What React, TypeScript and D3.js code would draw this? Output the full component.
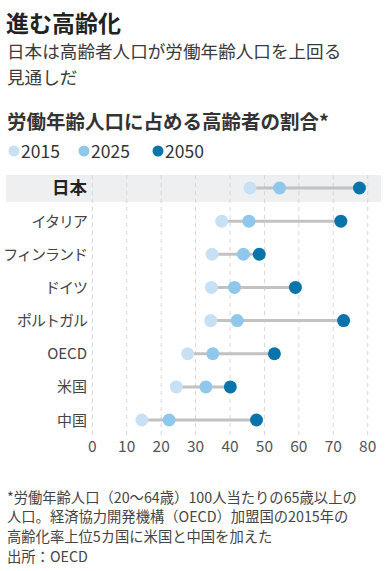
import * as d3 from "d3";

const countries = ["日本", "イタリア", "フィンランド", "ドイツ", "ポルトガル", "OECD", "米国", "中国"];
const years = ["2015", "2025", "2050"];
const v2015 = [45.8, 37.6, 34.8, 34.6, 34.4, 27.7, 24.4, 14.4];
const v2025 = [54.4, 45.5, 43.9, 41.3, 42.1, 35.0, 33.0, 22.3];
const v2050 = [77.6, 72.2, 48.5, 59.0, 73.0, 52.9, 40.1, 47.7];
const ticks = [0, 10, 20, 30, 40, 50, 60, 70, 80];
const notes = [
  "*労働年齢人口（20～64歳）100人当たりの65歳以上の",
  "人口。経済協力開発機構（OECD）加盟国の2015年の",
  "高齢化率上位5カ国に米国と中国を加えた",
  "出所：OECD",
];

const colors = ["#c8e0f4", "#90c8ec", "#0874aa"];
const font = "'Noto Sans CJK JP', 'Noto Sans', sans-serif";

// katakana rows are set a bit tighter, like the original
const isKana = (s: string) => /^[\u30a0-\u30ff]+$/.test(s);

export default function App() {
  const W = 387;
  const H = 571;
  const x = d3.scaleLinear().domain([0, 80]).range([92.3, 367.7]);
  const y = d3.scaleBand().domain(countries).range([171.4, 436.6]);
  const series = [v2015, v2025, v2050];
  const legendX = [14, 84, 158];

  return (
    <svg
      width={W}
      height={H}
      style={{ position: "absolute", left: 0, top: 0, background: "#fff" }}
      fontFamily={font}
    >
      <text x={6} y={32} fontSize={23} fontWeight="bold" fill="#222">進む高齢化</text>
      <text x={7} y={58} fontSize={17.6} fill="#3a3a3a">日本は高齢者人口が労働年齢人口を上回る</text>
      <text x={7} y={84} fontSize={17.6} fill="#3a3a3a">見通しだ</text>
      <text x={7} y={129} fontSize={19.5} fontWeight="bold" fill="#333">労働年齢人口に占める高齢者の割合*</text>

      {years.map((yr, i) => (
        <g key={yr}>
          <circle cx={legendX[i]} cy={151} r={5.5} fill={colors[i]} />
          <text x={legendX[i] + 7} y={157.5} fontSize={17.5} fill="#333">{yr}</text>
        </g>
      ))}

      <rect x={6} y={175} width={375} height={27} fill="#eeeff1" />

      {ticks.map((t) => (
        <g key={t}>
          <line
            x1={x(t)}
            x2={x(t)}
            y1={175}
            y2={438}
            stroke="#d6d6d6"
            strokeWidth={1}
            strokeDasharray="4,4"
          />
          <text x={x(t)} y={452} fontSize={15.5} fill="#555" textAnchor="middle">{t}</text>
        </g>
      ))}

      {countries.map((c, i) => {
        const cy = (y(c) ?? 0) + y.bandwidth() / 2;
        return (
          <g key={c}>
            <text
              x={87}
              y={cy + (i === 0 ? 6 : 5.5)}
              fontSize={i === 0 ? 17.5 : 15}
              letterSpacing={isKana(c) ? -1 : 0}
              textAnchor="end"
              fontWeight={i === 0 ? "bold" : "normal"}
              fill={i === 0 ? "#222" : "#444"}
            >
              {c}
            </text>
            <line
              x1={x(d3.min(series, (s) => s[i]) ?? 0)}
              x2={x(d3.max(series, (s) => s[i]) ?? 0)}
              y1={cy}
              y2={cy}
              stroke="#c2c2c2"
              strokeWidth={3}
            />
            {series.map((s, k) => (
              <circle key={k} cx={x(s[i])} cy={cy} r={6.5} fill={colors[k]} />
            ))}
          </g>
        );
      })}

      {notes.map((n, i) => (
        <text key={i} x={7} y={502.5 + i * 19.7} fontSize={14.3} fill="#444">{n}</text>
      ))}
    </svg>
  );
}
